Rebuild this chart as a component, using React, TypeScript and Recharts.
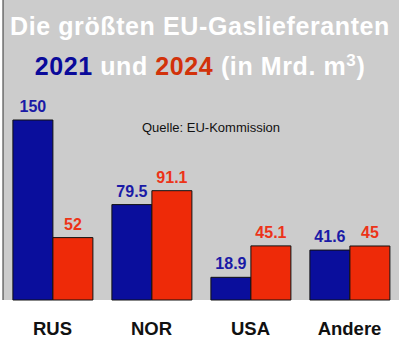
import { BarChart, Bar, XAxis, YAxis, CartesianGrid, LabelList } from "recharts";

const laender = ["RUS", "NOR", "USA", "Andere"];
const werte2021 = [150, 79.5, 18.9, 41.6];
const werte2024 = [52, 91.1, 45.1, 45];
const yTicks = [0, 50, 100, 150, 200, 250];
const randTicks = [0, 1, 2, 3, 4];

const daten = laender.map((land, i) => ({
  land,
  j2021: werte2021[i],
  j2024: werte2024[i],
}));

const font = "'Liberation Sans', Arial, sans-serif";

export default function App() {
  return (
    <div style={{ position: "absolute", left: 0, top: 0, width: 400, height: 354, background: "#fff", fontFamily: font }}>
      <BarChart
        width={400}
        height={354}
        data={daten}
        margin={{ top: 0, right: 1, bottom: 0, left: 0 }}
        barCategoryGap="10%"
        barGap={0}
      >
        <CartesianGrid fill="#cccccc" horizontal={false} vertical={false} />
        <XAxis
          xAxisId="rand"
          type="number"
          domain={[0, 4]}
          ticks={randTicks}
          tick={false}
          tickSize={5}
          height={0}
          axisLine={{ stroke: "#222" }}
          tickLine={{ stroke: "#222" }}
        />
        <XAxis
          dataKey="land"
          axisLine={false}
          tickLine={false}
          height={54}
          tickSize={0}
          tickMargin={22}
          tick={{ fill: "#111", fontSize: 18.5, fontWeight: "bold", fontFamily: font }}
        />
        <YAxis
          domain={[0, 250]}
          ticks={yTicks}
          width={3}
          tickSize={3}
          tick={false}
          axisLine={{ stroke: "#333" }}
          tickLine={{ stroke: "#333" }}
        />
        <Bar dataKey="j2021" fill="#0a0e9c" stroke="#111" strokeWidth={1} isAnimationActive={false}>
          <LabelList
            dataKey="j2021"
            position="top"
            offset={8}
            fill="#1a1aa6"
            fontSize={16}
            fontWeight="bold"
            fontFamily={font}
          />
        </Bar>
        <Bar dataKey="j2024" fill="#ee2a08" stroke="#111" strokeWidth={1} isAnimationActive={false}>
          <LabelList
            dataKey="j2024"
            position="top"
            offset={8}
            fill="#ec3318"
            fontSize={16}
            fontWeight="bold"
            fontFamily={font}
          />
        </Bar>
      </BarChart>

      <div style={{ position: "absolute", left: 0, top: 12, width: 400, textAlign: "center", color: "#fff", fontSize: 25, letterSpacing: 0.6, fontWeight: "bold", lineHeight: "28px" }}>
        Die größten EU-Gaslieferanten
      </div>
      <div style={{ position: "absolute", left: 0, top: 52, width: 400, textAlign: "center", color: "#fff", fontSize: 25, letterSpacing: 0.6, fontWeight: "bold", lineHeight: "28px" }}>
        <span style={{ color: "#0a0a9a" }}>2021</span> und{" "}
        <span style={{ color: "#d2320a" }}>2024</span> (in Mrd. m<sup style={{ fontSize: 17, lineHeight: 0 }}>3</sup>)
      </div>
      <div style={{ position: "absolute", left: 142, top: 120, color: "#111", fontSize: 13, whiteSpace: "nowrap" }}>
        Quelle: EU-Kommission
      </div>
    </div>
  );
}
